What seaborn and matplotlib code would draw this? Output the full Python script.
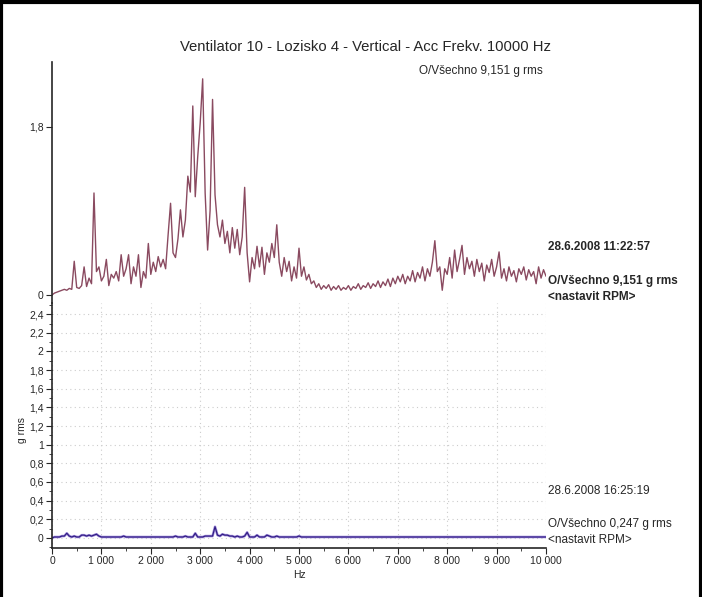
import numpy as np
import pandas as pd
import seaborn as sns
import matplotlib
matplotlib.use("Agg")
import matplotlib.pyplot as plt
from matplotlib.ticker import FixedLocator, MultipleLocator, FuncFormatter
from matplotlib.lines import Line2D

# Frequency axis (Hz), 50 Hz steps
FREQ = list(range(0, 10001, 50))

# Upper spectrum, 28.6.2008 11:22:57 (g rms)
ACC_1122 = [
    0.00, 0.02, 0.03, 0.04, 0.05, 0.06, 0.05, 0.07, 0.06, 0.36,
    0.08, 0.07, 0.10, 0.30, 0.09, 0.18, 0.12, 1.09, 0.25, 0.30,
    0.15, 0.20, 0.38, 0.10, 0.22, 0.18, 0.25, 0.15, 0.43, 0.20,
    0.28, 0.43, 0.12, 0.30, 0.20, 0.43, 0.08, 0.25, 0.18, 0.55,
    0.22, 0.35, 0.25, 0.41, 0.30, 0.38, 0.28, 0.64, 0.98, 0.45,
    0.40, 0.60, 0.91, 0.62, 0.80, 1.27, 1.10, 2.02, 1.05, 1.48,
    1.84, 2.31, 1.09, 0.48, 0.90, 2.09, 1.07, 0.75, 0.62, 0.80,
    0.55, 0.68, 0.45, 0.72, 0.50, 0.70, 0.43, 0.62, 1.15, 0.45,
    0.14, 0.40, 0.28, 0.52, 0.30, 0.51, 0.22, 0.45, 0.35, 0.55,
    0.40, 0.75, 0.35, 0.20, 0.40, 0.25, 0.36, 0.15, 0.30, 0.18,
    0.50, 0.20, 0.30, 0.16, 0.22, 0.12, 0.15, 0.08, 0.12, 0.06,
    0.10, 0.07, 0.11, 0.05, 0.09, 0.06, 0.10, 0.05, 0.08, 0.06,
    0.10, 0.05, 0.09, 0.07, 0.12, 0.06, 0.10, 0.08, 0.13, 0.07,
    0.12, 0.09, 0.15, 0.08, 0.14, 0.10, 0.17, 0.09, 0.18, 0.12,
    0.20, 0.14, 0.22, 0.12, 0.20, 0.15, 0.26, 0.14, 0.24, 0.18,
    0.30, 0.15, 0.28, 0.20, 0.35, 0.58, 0.25, 0.30, 0.05, 0.28,
    0.22, 0.40, 0.18, 0.48, 0.25, 0.38, 0.53, 0.22, 0.40, 0.28,
    0.36, 0.20, 0.38, 0.25, 0.34, 0.15, 0.32, 0.24, 0.38, 0.20,
    0.30, 0.46, 0.18, 0.28, 0.15, 0.30, 0.20, 0.26, 0.14, 0.28,
    0.22, 0.30, 0.16, 0.27, 0.20, 0.25, 0.12, 0.30, 0.18, 0.27,
    0.20,
]

# Lower spectrum, 28.6.2008 16:25:19 (g rms)
ACC_1625 = [
    0.00, 0.01, 0.01, 0.01, 0.02, 0.02, 0.05, 0.02, 0.01, 0.02,
    0.01, 0.01, 0.03, 0.03, 0.02, 0.03, 0.02, 0.03, 0.04, 0.02,
    0.01, 0.01, 0.01, 0.01, 0.01, 0.01, 0.01, 0.01, 0.01, 0.02,
    0.01, 0.01, 0.01, 0.01, 0.01, 0.01, 0.01, 0.01, 0.01, 0.01,
    0.01, 0.01, 0.01, 0.01, 0.01, 0.01, 0.01, 0.01, 0.01, 0.01,
    0.02, 0.01, 0.01, 0.01, 0.02, 0.01, 0.01, 0.01, 0.05, 0.01,
    0.01, 0.01, 0.02, 0.02, 0.02, 0.02, 0.12, 0.03, 0.02, 0.04,
    0.03, 0.03, 0.02, 0.02, 0.01, 0.02, 0.01, 0.01, 0.02, 0.06,
    0.01, 0.01, 0.01, 0.03, 0.01, 0.01, 0.01, 0.03, 0.02, 0.01,
    0.01, 0.02, 0.01, 0.01, 0.01, 0.01, 0.01, 0.01, 0.01, 0.01,
    0.02, 0.01, 0.01, 0.01, 0.01, 0.01, 0.01, 0.01, 0.01, 0.01,
    0.01, 0.01, 0.01, 0.01, 0.01, 0.01, 0.01, 0.01, 0.01, 0.01,
    0.01, 0.01, 0.01, 0.01, 0.01, 0.01, 0.01, 0.01, 0.01, 0.01,
    0.01, 0.01, 0.01, 0.01, 0.01, 0.01, 0.01, 0.01, 0.01, 0.01,
    0.01, 0.01, 0.01, 0.01, 0.01, 0.01, 0.01, 0.01, 0.01, 0.01,
    0.01, 0.01, 0.01, 0.01, 0.01, 0.01, 0.01, 0.01, 0.01, 0.01,
    0.01, 0.01, 0.01, 0.01, 0.01, 0.01, 0.01, 0.01, 0.01, 0.01,
    0.01, 0.01, 0.01, 0.01, 0.01, 0.01, 0.01, 0.01, 0.01, 0.01,
    0.01, 0.01, 0.01, 0.01, 0.01, 0.01, 0.01, 0.01, 0.01, 0.01,
    0.01, 0.01, 0.01, 0.01, 0.01, 0.01, 0.01, 0.01, 0.01, 0.01,
    0.01,
]

TITLE = "Ventilator 10 - Lozisko 4 - Vertical - Acc Frekv. 10000 Hz"
X_TICKS = [0, 1000, 2000, 3000, 4000, 5000, 6000, 7000, 8000, 9000, 10000]
Y_TICKS = [0, 0.2, 0.4, 0.6, 0.8, 1.0, 1.2, 1.4, 1.6, 1.8, 2.0, 2.2, 2.4]
TOP_TICKS = [0, 1.8]

sns.set_style("ticks")
plt.rcParams["font.family"] = ["Liberation Sans", "DejaVu Sans"]

W, H = 702, 597
fig = plt.figure(figsize=(W / 100, H / 100), dpi=100)


def fx(px):
    return px / W


def fy(py):
    return 1 - py / H


def comma(v, pos=None):
    if abs(v - round(v)) < 1e-9:
        return f"{int(round(v))}"
    return f"{v:g}".replace(".", ",")


def thousands(v, pos=None):
    return f"{int(v):,}".replace(",", " ")


x0, x1 = 52, 546
# bottom panel (the later trace)
ax_b = fig.add_axes([fx(x0), fy(548), fx(x1) - fx(x0), fy(303) - fy(548)])
# top panel (the earlier trace, offset upwards)
ax_t = fig.add_axes([fx(x0), fy(303), fx(x1) - fx(x0), fy(62) - fy(303)])

df = pd.DataFrame({"f": FREQ, "a1": ACC_1122, "a2": ACC_1625})

sns.lineplot(data=df, x="f", y="a2", ax=ax_b, color="#9a86d8", lw=1.8)
sns.lineplot(data=df, x="f", y="a2", ax=ax_b, color="#2e1a80", lw=0.8)
sns.lineplot(data=df, x="f", y="a1", ax=ax_t, color="#8a4a60", lw=1.0)

ax_b.set_xlim(0, 10000)
ax_b.set_ylim(-0.108, 2.52)
ax_b.xaxis.set_major_locator(FixedLocator(X_TICKS))
ax_b.xaxis.set_minor_locator(MultipleLocator(500))
ax_b.xaxis.set_major_formatter(FuncFormatter(thousands))
ax_b.yaxis.set_major_locator(FixedLocator(Y_TICKS))
ax_b.yaxis.set_minor_locator(MultipleLocator(0.1))
ax_b.yaxis.set_major_formatter(FuncFormatter(comma))
ax_b.grid(True, which="major", color="#cccccc", ls=(0, (1, 3)), lw=0.8)
ax_b.tick_params(which="major", length=4, width=0.8, labelsize=7.5, pad=2)
ax_b.tick_params(which="minor", length=2, width=0.6)
ax_b.set_xlabel("")
ax_b.set_ylabel("")
for s in ["top", "right"]:
    ax_b.spines[s].set_visible(False)
for s in ["left", "bottom"]:
    ax_b.spines[s].set_linewidth(1.2)

ax_t.set_xlim(0, 10000)
ax_t.set_ylim(-0.086, 2.49)
ax_t.patch.set_alpha(0)
ax_t.set_xticks([])
ax_t.yaxis.set_major_locator(FixedLocator(TOP_TICKS))
ax_t.yaxis.set_major_formatter(FuncFormatter(comma))
ax_t.tick_params(length=4, width=0.8, labelsize=7.5, pad=2)
ax_t.set_xlabel("")
ax_t.set_ylabel("")
for s in ["top", "right", "bottom"]:
    ax_t.spines[s].set_visible(False)
ax_t.spines["left"].set_linewidth(1.2)

fig.text(fx(365), fy(47), TITLE, ha="center", va="center", fontsize=10.7)
fig.text(fx(543), fy(71), "O/Všechno 9,151 g rms", ha="right", va="center", fontsize=8.5)

lab = dict(ha="left", va="center", fontsize=8.5)
fig.text(fx(548), fy(247), "28.6.2008 11:22:57", fontweight="bold", **lab)
fig.text(fx(548), fy(281), "O/Všechno 9,151 g rms", fontweight="bold", **lab)
fig.text(fx(548), fy(297), "<nastavit RPM>", fontweight="bold", **lab)
fig.text(fx(548), fy(491), "28.6.2008 16:25:19", **lab)
fig.text(fx(548), fy(524), "O/Všechno 0,247 g rms", **lab)
fig.text(fx(548), fy(540), "<nastavit RPM>", **lab)

fig.text(fx(22), fy(430), "g rms", rotation=90, ha="center", va="center", fontsize=7.5)
fig.text(fx(299), fy(575), "Hz", ha="center", va="center", fontsize=7.5)

# outer black frame
for xs, ys in [([0.002, 0.002], [0, 1]), ([0, 1], [0.997, 0.997]), ([0.998, 0.998], [0, 1])]:
    fig.add_artist(Line2D(xs, ys, color="black", lw=3, transform=fig.transFigure))

fig.savefig("out.png", dpi=100)
